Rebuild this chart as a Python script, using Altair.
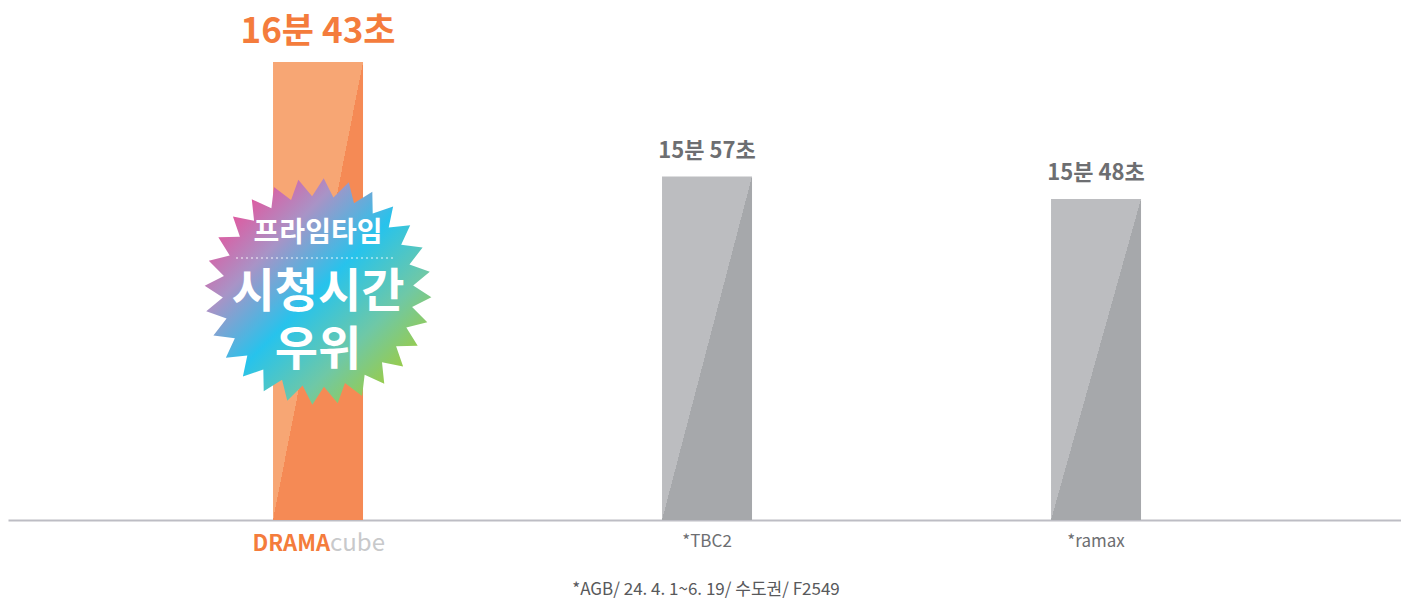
import math
import altair as alt
import pandas as pd

# ---- data ----
channels = ["DRAMAcube", "*TBC2", "*ramax"]
minutes = [16, 15, 15]
seconds = [43, 57, 48]
value_labels = ["16분 43초", "15분 57초", "15분 48초"]
logo_parts = ["DRAMA", "cube"]
badge_lines = ["프라임타임", "시청시간", "우위"]
footnote = ["*AGB/ 24. 4. 1~6. 19/ 수도권/ F2549"]

FONT = "Noto Sans CJK KR"

df = pd.DataFrame({
    "channel": channels,
    "secs": [m * 60 + s for m, s in zip(minutes, seconds)],
    "label": value_labels,
})
logo_df = pd.DataFrame({"channel": [channels[0]] * 2, "part": logo_parts})
badge_df = pd.DataFrame({"channel": [channels[0]] * 3, "line": badge_lines})
note_df = pd.DataFrame({"note": footnote})

# starburst shape (normalized to [-1, 1])
n_spikes = 28
pts = []
for i in range(2 * n_spikes):
    ang = -math.pi / 2 + i * math.pi / n_spikes + 0.05
    rad = 1.0 if i % 2 == 0 else 0.84
    pts.append((rad * math.cos(ang), rad * math.sin(ang)))
star_path = "M" + " L".join(f"{x:.4f},{y:.4f}" for x, y in pts) + " Z"

def split_gradient(light, dark):
    return {
        "gradient": "linear", "x1": 0, "y1": 0, "x2": 1, "y2": 1,
        "stops": [
            {"offset": 0, "color": light},
            {"offset": 0.5, "color": light},
            {"offset": 0.5, "color": dark},
            {"offset": 1, "color": dark},
        ],
    }

orange_grad = split_gradient("#f7a674", "#f58a55")
gray_grad = split_gradient("#bcbdc0", "#a6a8ab")
badge_grad = {
    "gradient": "linear", "x1": 0, "y1": 0, "x2": 1, "y2": 1,
    "stops": [
        {"offset": 0, "color": "#ea4598"},
        {"offset": 0.15, "color": "#dd5ca2"},
        {"offset": 0.3, "color": "#a993c6"},
        {"offset": 0.5, "color": "#27c3ec"},
        {"offset": 0.7, "color": "#6fc8a6"},
        {"offset": 0.86, "color": "#9acc48"},
        {"offset": 1, "color": "#a8cf38"},
    ],
}

x_enc = alt.X(
    "channel:N",
    scale=alt.Scale(domain=channels, paddingInner=0.76864, paddingOuter=0.6748, align=0.5048),
    axis=alt.Axis(labels=False, ticks=False, title=None, grid=False,
                  domainColor="#bdbdc4", domainWidth=2),
)
y_enc = alt.Y(
    "secs:Q",
    scale=alt.Scale(domain=[819, 1024.7], nice=False, zero=False, clamp=True),
    axis=None,
)

base = alt.Chart(df).encode(x=x_enc, y=y_enc)
is_dc = alt.datum.channel == channels[0]
not_dc = alt.datum.channel != channels[0]

bars_o = base.transform_filter(is_dc).mark_bar(fill=orange_grad, strokeWidth=0)
bars_g = base.transform_filter(not_dc).mark_bar(fill=gray_grad, strokeWidth=0)

lab_o = base.transform_filter(is_dc).mark_text(
    dy=-30, fontSize=35, fontWeight="bold", font=FONT, color="#f47c3c", baseline="middle"
).encode(text="label:N")
lab_g = base.transform_filter(not_dc).mark_text(
    dy=-26, fontSize=22, fontWeight="bold", font=FONT, color="#6d6e71", baseline="middle"
).encode(text="label:N")

bx = alt.Chart(badge_df).encode(x=alt.X("channel:N"))
star = bx.transform_filter(alt.datum.line == badge_lines[0]).mark_point(
    shape=star_path, filled=True, fill=badge_grad, size=51529, opacity=1, strokeWidth=0
).encode(y=alt.value(283.5))
b1 = bx.transform_filter(alt.datum.line == badge_lines[0]).mark_text(
    fontSize=28, fontWeight="bold", font=FONT, color="white", baseline="middle"
).encode(text="line:N", y=alt.value(226))
dots = bx.transform_filter(alt.datum.line == badge_lines[0]).mark_rule(
    color="white", strokeDash=[2, 3], strokeWidth=1.2, opacity=0.9
).encode(x=alt.value(228), x2=alt.value(387), y=alt.value(250))
b2 = bx.transform_filter(alt.datum.line == badge_lines[1]).mark_text(
    fontSize=47, fontWeight="bold", font=FONT, color="white", baseline="middle"
).encode(text="line:N", y=alt.value(285))
b3 = bx.transform_filter(alt.datum.line == badge_lines[2]).mark_text(
    fontSize=47, fontWeight="bold", font=FONT, color="white", baseline="middle"
).encode(text="line:N", y=alt.value(343))

lx = alt.Chart(logo_df).encode(x=alt.X("channel:N"), y=alt.value(536), text="part:N")
logo_a = lx.transform_filter(alt.datum.part == logo_parts[0]).mark_text(
    align="right", dx=12, fontSize=22, fontWeight="bold", font=FONT,
    color="#f47c3c", baseline="middle")
logo_b = lx.transform_filter(alt.datum.part == logo_parts[1]).mark_text(
    align="left", dx=12, fontSize=24, font=FONT, color="#c8c9cb", baseline="middle")

xlab = base.transform_filter(not_dc).mark_text(
    fontSize=17, font=FONT, color="#6d6e71", baseline="middle"
).encode(text="channel:N", y=alt.value(534))

note = alt.Chart(note_df).mark_text(
    fontSize=17, font=FONT, color="#58595b", baseline="middle"
).encode(text="note:N", x=alt.value(698), y=alt.value(582))

chart = alt.layer(
    bars_o, bars_g, lab_o, lab_g, star, b1, dots, b2, b3, logo_a, logo_b, xlab, note
).properties(
    width=1393, height=512,
    autosize=alt.AutoSizeParams(type="none"),
    padding={"left": 0, "top": 0, "right": 0, "bottom": 82},
    background="white",
).configure_view(stroke=None)

chart.save("out.html", embed_options={"renderer": "svg", "actions": False})
